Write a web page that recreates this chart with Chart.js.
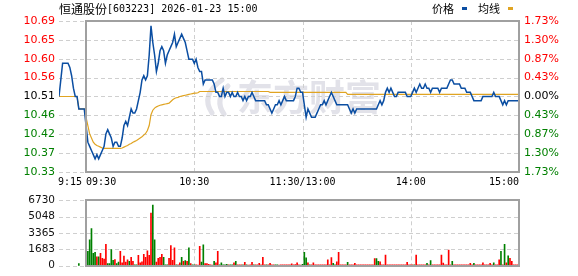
<!DOCTYPE html>
<html><head><meta charset="utf-8">
<script src="https://cdn.jsdelivr.net/npm/chart.js@4/dist/chart.umd.min.js"></script>
<style>
html,body{margin:0;padding:0;background:#fff;width:578px;height:276px;overflow:hidden}
#c1{position:absolute;left:0;top:0}
#c2{position:absolute;left:0;top:190px}
</style></head><body>
<canvas id="c1" width="578" height="190"></canvas>
<canvas id="c2" width="578" height="86"></canvas>
<script>
// ---------------- data ----------------
const stockName = '恒通股份';
const stockCode = '603223';
const stampText = '2026-01-23 15:00';
const seriesNames = ['价格', '均线'];
const watermarkText = '东方财富';
const prevClose = 10.51;
const pctLimit = 1.73;
const priceTickLabels = ['10.33','10.37','10.42','10.46','10.51','10.56','10.60','10.65','10.69'];
const pctTickLabels = ['1.73%','1.30%','0.87%','0.43%','0.00%','0.43%','0.87%','1.30%','1.73%'];
const volTickValues = [0, 1683, 3365, 5048, 6730];
const volTickLabels = ['0','1683','3365','5048','6730'];
const timeTickMinutes = [-15, 0, 60, 120, 180, 240];
const timeTickLabels = ['9:15','09:30','10:30','11:30/13:00','14:00','15:00'];

// call auction 9:15-9:29 (minute -15 .. -1)
const auctionStart = -15;
const auctionPrice = [10.51,10.55,10.59,10.59,10.59,10.59,10.58,10.56,10.53,10.51,10.51,10.48,10.48,10.48,10.48];
const auctionAvg   = [10.51,10.51,10.51,10.51,10.51,10.51,10.51,10.51,10.51,10.51,10.51,10.48,10.48,10.48,10.48];
const auctionVolMinutes = [-4];
const auctionVol = [214];
const auctionDir = ['d'];

// trading minutes 0 (09:30) .. 240 (15:00)
const tradePrice = [
10.44,10.40,10.39,10.38,10.37,10.36,10.37,10.36,10.37,10.38,
10.39,10.42,10.43,10.42,10.41,10.39,10.40,10.40,10.39,10.39,
10.41,10.44,10.45,10.44,10.46,10.48,10.47,10.47,10.48,10.50,
10.52,10.55,10.56,10.55,10.56,10.61,10.68,10.64,10.61,10.57,
10.59,10.62,10.63,10.62,10.59,10.61,10.62,10.63,10.64,10.66,
10.63,10.64,10.65,10.66,10.65,10.64,10.62,10.60,10.60,10.60,
10.59,10.60,10.58,10.57,10.57,10.54,10.55,10.55,10.55,10.55,
10.55,10.54,10.52,10.52,10.51,10.51,10.53,10.51,10.52,10.52,
10.51,10.52,10.51,10.51,10.52,10.51,10.51,10.50,10.51,10.50,
10.51,10.51,10.52,10.51,10.50,10.50,10.50,10.50,10.50,10.50,
10.49,10.49,10.48,10.47,10.48,10.49,10.49,10.50,10.49,10.50,
10.51,10.50,10.50,10.50,10.50,10.50,10.51,10.53,10.53,10.52,
10.52,10.49,10.46,10.48,10.47,10.46,10.46,10.46,10.47,10.48,
10.49,10.49,10.50,10.49,10.50,10.51,10.52,10.51,10.50,10.49,
10.49,10.49,10.49,10.49,10.49,10.49,10.48,10.47,10.48,10.47,
10.48,10.48,10.48,10.48,10.48,10.48,10.48,10.48,10.48,10.48,
10.48,10.48,10.49,10.50,10.49,10.50,10.52,10.53,10.52,10.53,
10.52,10.51,10.51,10.52,10.52,10.52,10.52,10.52,10.51,10.51,
10.51,10.52,10.53,10.52,10.53,10.54,10.53,10.53,10.54,10.53,
10.53,10.52,10.53,10.53,10.53,10.53,10.52,10.53,10.53,10.53,
10.53,10.54,10.55,10.55,10.54,10.54,10.54,10.54,10.53,10.53,
10.53,10.52,10.52,10.52,10.51,10.50,10.50,10.50,10.50,10.50,
10.51,10.51,10.51,10.51,10.51,10.51,10.52,10.51,10.51,10.51,
10.50,10.49,10.50,10.49,10.50,10.50,10.50,10.50,10.50,10.50,
10.50];

const tradeAvg = [
10.460,10.440,10.420,10.410,10.400,10.395,10.392,10.390,10.388,10.386,
10.385,10.385,10.385,10.385,10.385,10.385,10.385,10.385,10.385,10.385,
10.386,10.388,10.390,10.392,10.395,10.397,10.400,10.402,10.404,10.407,
10.410,10.413,10.417,10.421,10.428,10.440,10.466,10.477,10.482,10.485,
10.487,10.489,10.490,10.491,10.492,10.493,10.494,10.498,10.502,10.505,
10.507,10.508,10.510,10.511,10.512,10.513,10.514,10.515,10.516,10.517,
10.518,10.518,10.519,10.522,10.522,10.522,10.522,10.522,10.522,10.522,
10.522,10.522,10.522,10.522,10.522,10.522,10.522,10.522,10.522,10.522,
10.522,10.522,10.522,10.522,10.522,10.522,10.522,10.522,10.522,10.522,
10.522,10.522,10.522,10.522,10.522,10.522,10.522,10.522,10.522,10.522,
10.522,10.522,10.520,10.520,10.520,10.520,10.520,10.520,10.520,10.520,
10.520,10.520,10.520,10.520,10.520,10.520,10.520,10.520,10.520,10.520,
10.520,10.520,10.520,10.520,10.520,10.520,10.520,10.520,10.520,10.520,
10.520,10.520,10.520,10.520,10.520,10.520,10.520,10.520,10.520,10.520,
10.520,10.520,10.520,10.520,10.520,10.515,10.515,10.515,10.515,10.515,
10.515,10.515,10.515,10.515,10.515,10.515,10.515,10.515,10.515,10.515,
10.515,10.515,10.515,10.515,10.515,10.515,10.515,10.515,10.515,10.515,
10.515,10.515,10.515,10.515,10.515,10.515,10.515,10.515,10.515,10.515,
10.515,10.515,10.515,10.515,10.515,10.515,10.515,10.515,10.515,10.515,
10.515,10.515,10.515,10.515,10.515,10.515,10.515,10.515,10.515,10.515,
10.515,10.515,10.515,10.515,10.515,10.515,10.515,10.515,10.515,10.515,
10.515,10.515,10.515,10.515,10.515,10.515,10.515,10.515,10.515,10.515,
10.515,10.515,10.515,10.515,10.515,10.515,10.515,10.515,10.515,10.515,
10.515,10.515,10.515,10.515,10.515,10.515,10.515,10.515,10.515,10.515,
10.515];

const tradeVol = [
0,1470,2660,3820,1285,1380,920,920,1285,765,
670,2200,215,215,1650,550,640,215,370,1470,
300,980,370,610,460,860,460,90,90,1070,
300,400,1160,860,1530,1070,5410,6240,2660,370,
765,860,1160,860,90,90,765,2080,550,1840,
90,90,300,860,460,520,460,1840,215,90,
90,90,60,1990,370,2140,215,215,150,90,
60,460,300,1470,90,300,90,90,150,90,
90,90,300,460,90,90,90,90,340,90,
60,90,340,90,90,90,245,90,860,90,
90,90,245,90,90,90,90,60,90,90,
90,90,90,90,180,90,120,300,90,60,
150,1380,820,300,90,90,300,90,90,90,
90,90,90,90,610,90,830,245,90,400,
1380,90,90,90,90,340,90,90,90,245,
90,90,90,90,90,90,90,90,90,90,
730,730,460,400,90,90,1100,90,90,90,
90,90,90,90,90,90,90,90,340,90,
90,90,90,1100,90,90,90,90,90,245,
90,520,90,90,90,90,90,1100,280,90,
90,1620,90,460,90,90,90,90,90,90,
90,90,90,245,90,245,90,90,90,90,
300,90,90,90,245,90,300,90,90,610,
1470,90,2200,300,1010,770,460,90,90,90,
860];

// u = price up (red bar), d = price down (green bar)
const tradeDir = (
'uddddduduu'+'uudddduddu'+'uuuuduuddu'+'uuuuuuuddu'+'uuuddduuuu'+
'duudududud'+'duuudduuuu'+'uduudddddu'+'dduduuudud'+'uuuduuuuuu'+
'duuuudduuu'+'uuuuuuuuuu'+'ddduduuuuu'+'uuuuuuuddu'+'uuuuuduuuu'+
'uuuuuuuuuu'+'udduuuuuuu'+'uuuuuuuuuu'+'uuduuuuuud'+'uduuuuuuuu'+
'uuuduuuuuu'+'uuuuuduuuu'+'uuuuuuduuu'+'dududuuuuu'+'u').split('');

// ---------------- styling ----------------
const COL = {price:'#0b4ea2', avg:'#e0a422', up:'#ff0000', down:'#008000', flat:'#000000',
             grid:'#cfcfcf', box:'#a0a0a0', wm:'#e2e2e9', text:'#000000'};
const NUM_FONT = 'DejaVu Sans';
const MONO_FONT = 'DejaVu Sans Mono';
const CJK_FONT = 'Noto Sans CJK SC';

const lo = prevClose * (1 - pctLimit / 100);
const hi = prevClose * (1 + pctLimit / 100);
const mid = (priceTickLabels.length - 1) / 2;
const tickColor = i => i < mid ? COL.down : (i > mid ? COL.up : COL.flat);

const pricePts = auctionPrice.map((v, i) => ({x: auctionStart + i, y: v}))
  .concat(tradePrice.map((v, i) => ({x: i, y: v})));
const avgPts = auctionAvg.map((v, i) => ({x: auctionStart + i, y: v}))
  .concat(tradeAvg.map((v, i) => ({x: i, y: v})));
const volPts = auctionVol.map((v, i) => ({x: auctionVolMinutes[i], y: v}))
  .concat(tradeVol.map((v, i) => ({x: i, y: v})));
const volDirs = auctionDir.concat(tradeDir);
const volColors = volDirs.map(d => d === 'u' ? COL.up : COL.down);

const xMin = timeTickMinutes[0], xMax = timeTickMinutes[timeTickMinutes.length - 1];
const innerMinutes = timeTickMinutes.filter(m => m > 0 && m < xMax);

function dashedLine(ctx, x1, y1, x2, y2) {
  ctx.beginPath(); ctx.moveTo(x1, y1); ctx.lineTo(x2, y2); ctx.stroke();
}
function drawGrid(chart, yScale) {
  const {ctx, chartArea: a, scales: {x}} = chart;
  ctx.save();
  ctx.strokeStyle = COL.grid; ctx.lineWidth = 1; ctx.setLineDash([4, 3]);
  yScale.ticks.forEach(t => {
    const py = Math.round(yScale.getPixelForValue(t.value)) + 0.5;
    dashedLine(ctx, a.left, py, a.right, py);
  });
  innerMinutes.forEach(m => {
    const px = Math.round(x.getPixelForValue(m)) + 0.5;
    dashedLine(ctx, px, a.top, px, a.bottom);
  });
  ctx.restore();
}
function drawBox(chart) {
  const {ctx, chartArea: a, scales: {x}} = chart;
  const x0 = Math.round(x.getPixelForValue(0));
  const x1 = Math.round(x.getPixelForValue(xMax));
  ctx.save();
  ctx.strokeStyle = COL.box; ctx.lineWidth = 2; ctx.setLineDash([]);
  ctx.strokeRect(x0, Math.round(a.top), x1 - x0, Math.round(a.bottom) - Math.round(a.top));
  ctx.restore();
}

const priceDeco = {
  id: 'priceDeco',
  beforeDatasetsDraw(chart) {
    const {ctx, scales: {y}} = chart;
    // watermark
    ctx.save();
    ctx.fillStyle = COL.wm; ctx.strokeStyle = COL.wm;
    ctx.font = 'bold 36px "' + CJK_FONT + '"';
    ctx.textAlign = 'left'; ctx.textBaseline = 'middle';
    ctx.fillText(watermarkText, 237, 97);
    ctx.lineWidth = 5; ctx.lineCap = 'round';
    ctx.beginPath(); ctx.moveTo(222, 80); ctx.quadraticCurveTo(200, 95, 212, 113); ctx.stroke();
    ctx.beginPath(); ctx.moveTo(228, 86); ctx.quadraticCurveTo(214, 100, 224, 114); ctx.stroke();
    ctx.restore();
    drawGrid(chart, y);
  },
  afterDatasetsDraw(chart) { drawBox(chart); },
  afterDraw(chart) {
    const {ctx, chartArea: a, scales: {x}} = chart;
    ctx.save();
    ctx.fillStyle = COL.text; ctx.textBaseline = 'middle'; ctx.textAlign = 'left';
    // title
    ctx.font = '12px "' + CJK_FONT + '"';
    ctx.fillText(stockName, 59, 9);
    const w = ctx.measureText(stockName).width;
    ctx.font = '10px "' + MONO_FONT + '"';
    ctx.fillText('[' + stockCode + '] ' + stampText, 59 + w, 9);
    // legend
    ctx.font = '11px "' + CJK_FONT + '"';
    const ds = chart.data.datasets;
    let lx = 432;
    ds.forEach((d) => {
      ctx.fillStyle = COL.text;
      ctx.fillText(d.label, lx, 9);
      lx += ctx.measureText(d.label).width + 8;
      ctx.fillStyle = d.borderColor;
      ctx.fillRect(Math.round(lx), 7, 5, 3);
      lx += 16;
    });
    // time labels
    ctx.fillStyle = COL.text;
    ctx.font = '10px "' + MONO_FONT + '"';
    timeTickMinutes.forEach((m, i) => {
      const px = x.getPixelForValue(m);
      ctx.textAlign = i <= 1 ? 'left' : (i === timeTickMinutes.length - 1 ? 'right' : 'center');
      ctx.fillText(timeTickLabels[i], i === 0 ? px - 1 : px, a.bottom + 10);
    });
    ctx.restore();
  }
};

const volDeco = {
  id: 'volDeco',
  beforeDatasetsDraw(chart) { drawGrid(chart, chart.scales.y); },
  afterDatasetsDraw(chart) { drawBox(chart); }
};

const yCommon = (labels, side, colorFn, pad, size) => ({
  type: 'linear', position: side,
  grid: {display: false, drawTicks: false, tickLength: 0}, border: {display: false},
  afterFit: s => { s.width = 59; },
  ticks: {
    autoSkip: false, padding: pad,
    callback: (v, i) => labels[i],
    color: c => colorFn(c.index),
    font: {family: NUM_FONT, size: size}
  }
});

const yLeft = yCommon(priceTickLabels, 'left', tickColor, 4, 11);
yLeft.min = lo; yLeft.max = hi;
yLeft.afterBuildTicks = s => { s.ticks = priceTickLabels.map((_, i) => ({value: lo + i * (hi - lo) / (priceTickLabels.length - 1)})); };
const yRight = yCommon(pctTickLabels, 'right', tickColor, 5, 11);
yRight.min = lo; yRight.max = hi;
yRight.afterBuildTicks = s => { s.ticks = pctTickLabels.map((_, i) => ({value: lo + i * (hi - lo) / (pctTickLabels.length - 1)})); };

new Chart(document.getElementById('c1'), {
  type: 'line',
  data: {datasets: [
    {label: seriesNames[0], data: pricePts, borderColor: COL.price, borderWidth: 1.5, pointRadius: 0, tension: 0, fill: false},
    {label: seriesNames[1], data: avgPts, borderColor: COL.avg, borderWidth: 1.2, pointRadius: 0, tension: 0, fill: false}
  ]},
  options: {
    responsive: false, animation: false, events: [],
    layout: {padding: {top: 21, bottom: 18, left: 0, right: 0}},
    plugins: {legend: {display: false}, tooltip: {enabled: false}},
    scales: {
      x: {type: 'linear', min: xMin, max: xMax, display: false},
      y: yLeft,
      y2: yRight
    }
  },
  plugins: [priceDeco]
});

const volMax = volTickValues[volTickValues.length - 1];
const yVol = yCommon(volTickLabels, 'left', () => '#111111', 4, 10.5);
yVol.min = 0; yVol.max = volMax;
yVol.afterBuildTicks = s => { s.ticks = volTickValues.map(v => ({value: v})); };

new Chart(document.getElementById('c2'), {
  type: 'bar',
  data: {datasets: [
    {label: 'vol', data: volPts, backgroundColor: volColors, borderWidth: 0, barThickness: 1}
  ]},
  options: {
    responsive: false, animation: false, events: [],
    layout: {padding: {top: 7, bottom: 6, left: 0, right: 59}},
    plugins: {legend: {display: false}, tooltip: {enabled: false}},
    scales: {
      x: {type: 'linear', min: xMin, max: xMax, display: false, offset: false},
      y: yVol
    }
  },
  plugins: [volDeco]
});
</script>
</body></html>
